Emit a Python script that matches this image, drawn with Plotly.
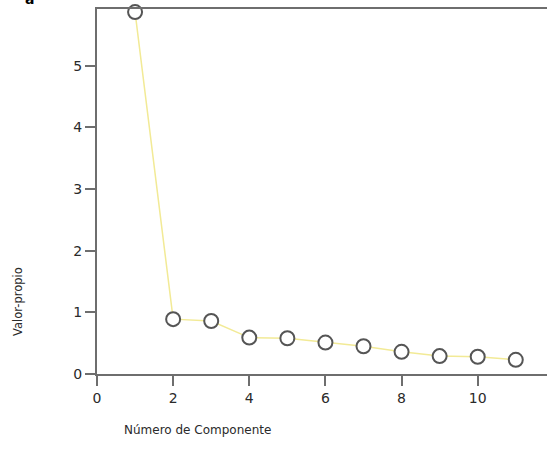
import plotly.graph_objects as go

components = [1, 2, 3, 4, 5, 6, 7, 8, 9, 10, 11]
eigenvalues = [5.87, 0.89, 0.86, 0.59, 0.58, 0.51, 0.45, 0.36, 0.29, 0.28, 0.23]
x_ticks = [0, 2, 4, 6, 8, 10]
y_ticks = [0, 1, 2, 3, 4, 5]

fig = go.Figure()
fig.add_trace(go.Scatter(
    x=components, y=eigenvalues, mode="lines+markers",
    line=dict(color="#f2ea96", width=1.5),
    marker=dict(symbol="circle", size=14, color="white",
                line=dict(color="#555555", width=2)),
    cliponaxis=False, showlegend=False,
))

axis_font = dict(family="DejaVu Sans", size=14, color="#2a2a2a")
fig.update_layout(
    width=547, height=466,
    margin=dict(l=97, r=0, t=9, b=92, autoexpand=False),
    paper_bgcolor="white", plot_bgcolor="white",
    xaxis=dict(range=[0, 11.82], tickvals=x_ticks, showgrid=False, zeroline=False,
               showline=True, linecolor="#6e6e6e", linewidth=2, mirror=True,
               ticks="outside", ticklen=10, tickwidth=2, tickcolor="#6e6e6e",
               tickfont=axis_font, automargin=False),
    yaxis=dict(range=[0, 5.92], tickvals=y_ticks, showgrid=False, zeroline=False,
               showline=True, linecolor="#6e6e6e", linewidth=2,
               ticks="outside", ticklen=10, tickwidth=2, tickcolor="#6e6e6e",
               tickfont=axis_font, automargin=False),
    annotations=[
        dict(text="Número de Componente", xref="paper", yref="paper",
             x=(122 - 97) / 450, xanchor="left", y=-56 / 365, yanchor="middle",
             showarrow=False, font=dict(family="DejaVu Sans", size=12, color="#2a2a2a")),
        dict(text="Valor-propio", xref="paper", yref="paper",
             x=-79 / 450, xanchor="center", y=(374 - 302) / 365, yanchor="middle",
             textangle=-90, showarrow=False,
             font=dict(family="DejaVu Sans", size=11.5, color="#2a2a2a")),
        dict(text="<b>a</b>", xref="paper", yref="paper",
             x=-68 / 450, xanchor="center", y=1.0, yanchor="bottom",
             showarrow=False, font=dict(family="DejaVu Sans", size=14, color="black")),
    ],
)

fig.write_html("out.html", config={"displayModeBar": False},
               post_script="document.body.style.margin='0';")
